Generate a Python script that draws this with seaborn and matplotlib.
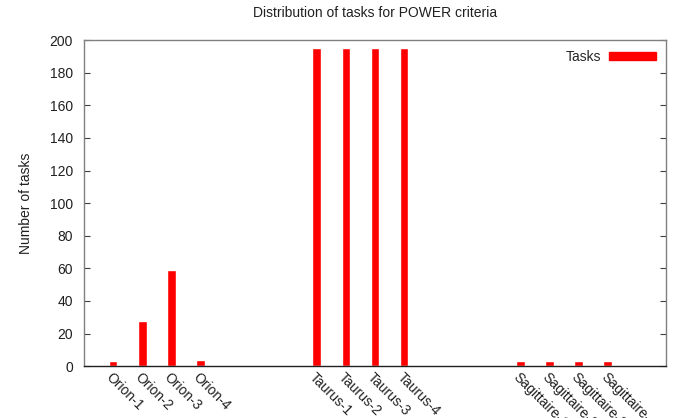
import pandas as pd
import numpy as np
import matplotlib
matplotlib.use("Agg")
import matplotlib.pyplot as plt
import seaborn as sns
from matplotlib.patches import Patch

# task counts per host
orion = ["Orion-1", "Orion-2", "Orion-3", "Orion-4"]
orion_tasks = [3, 28, 59, 4]
taurus = ["Taurus-1", "Taurus-2", "Taurus-3", "Taurus-4"]
taurus_tasks = [195, 195, 195, 195]
sagittaire = ["Sagittaire-1", "Sagittaire-2", "Sagittaire-3", "Sagittaire-4"]
sagittaire_tasks = [3, 3, 3, 3]

# empty slots between clusters
gap_a = [" ", "  ", "   "]
gap_b = ["    ", "     ", "      "]

sns.set_style("white")
plt.rcParams['font.family'] = ['Liberation Sans', 'DejaVu Sans']
fs = 10

data = pd.DataFrame({"host": orion + taurus + sagittaire,
                     "tasks": orion_tasks + taurus_tasks + sagittaire_tasks})
order = orion + gap_a + taurus + gap_b + sagittaire

fig, ax = plt.subplots(figsize=(6.83, 4.18), dpi=100)
fig.subplots_adjust(left=0.123, right=0.975, top=0.904, bottom=0.124)

sns.barplot(data=data, x="host", y="tasks", order=order, color="#ff0000",
            width=0.3, saturation=1, ax=ax, zorder=2)

ax.set_xlim(-1, len(order) + 1)
ax.set_ylim(0, 200)
ax.set_yticks(np.arange(0, 201, 20))
ax.tick_params(axis="y", direction="in", length=4, left=True, right=True,
               labelsize=fs, colors="#404040", pad=8)
ax.tick_params(axis="x", length=0, labelsize=fs, colors="#404040", pad=3)
for t in ax.get_yticklabels():
    t.set_color("#202020")
for t in ax.get_xticklabels():
    t.set_rotation(-45)
    t.set_ha("left")
    t.set_va("top")
    t.set_rotation_mode("anchor")
    t.set_color("#202020")

for side in ["left", "right", "top"]:
    ax.spines[side].set_color("#808080")
    ax.spines[side].set_linewidth(1)
ax.spines["bottom"].set_color("#202020")
ax.spines["bottom"].set_linewidth(1)

ax.set_xlabel("")
ax.set_ylabel("Number of tasks", fontsize=fs, color="#202020", labelpad=12)
fig.suptitle("Distribution of tasks for POWER criteria", x=0.549, y=0.985,
             fontsize=fs, color="#202020")

ax.legend(handles=[Patch(color="#ff0000", label="Tasks")], loc="upper right",
          frameon=False, markerfirst=False, fontsize=fs, handlelength=3.4,
          handleheight=0.55, borderaxespad=0.3, handletextpad=0.55)

plt.savefig("out.png", dpi=100)
